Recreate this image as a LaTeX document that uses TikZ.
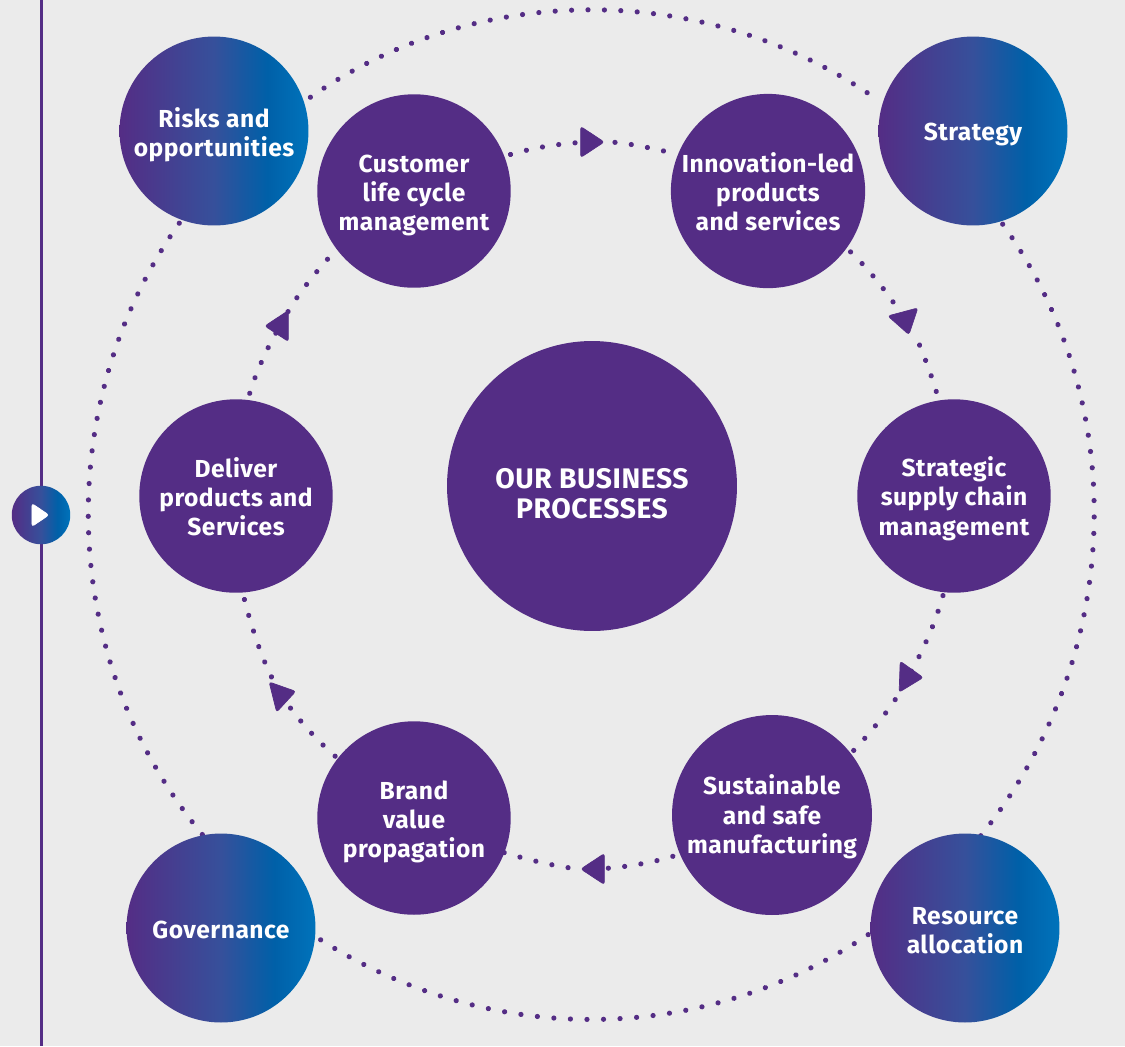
\documentclass[tikz,border=0pt]{standalone}
\usepackage{fontspec}
\setmainfont{Fira Sans}[LetterSpace=2]
\usetikzlibrary{shapes.geometric,backgrounds}
\definecolor{pagegrey}{HTML}{EBEBEB}
\definecolor{procpurple}{HTML}{542D85}
\definecolor{orbmid}{HTML}{36509B}
\definecolor{orbdeep}{HTML}{0060A8}
\definecolor{orbblue}{HTML}{0073BB}
\pgfdeclarehorizontalshading{orbfade}{100bp}{color(0bp)=(procpurple); color(25bp)=(procpurple); color(50bp)=(orbmid); color(64bp)=(orbdeep); color(75bp)=(orbblue); color(100bp)=(orbblue)}

\begin{document}
\begin{tikzpicture}[x=0.02cm, y=0.02cm]
        \tikzstyle{every node}+=[inner sep=0pt, outer sep=0pt]
        \tikzstyle{procnode}=[circle, fill=procpurple, minimum size=3.87cm, text=white, align=center, text height=48.5pt, text depth=3pt, font=\fontsize{14}{16.7}\selectfont\bfseries]
        \tikzstyle{orbnode}=[circle, shading=orbfade, minimum size=3.78cm, text=white, align=center, text height=32pt, text depth=3pt, font=\fontsize{14}{16.7}\selectfont\bfseries]
        \tikzstyle{hubnode}=[circle, fill=procpurple, minimum size=5.8cm, text=white, align=center, text height=40pt, text depth=3pt, font=\fontsize{16.1}{17}\selectfont\bfseries]
        \tikzstyle{flowtip}=[isosceles triangle, isosceles triangle stretches, fill=procpurple, draw=procpurple, rounded corners=1.5pt, minimum width=0.62cm, minimum height=0.47cm]
        \tikzstyle{ringdots}=[procpurple, line width=0.104cm, line cap=round, dash pattern=on 0.01pt off 0.328cm]
        \tikzstyle{innerdots}=[ringdots, bend left=7.3, looseness=0.855]
        \tikzstyle{outerdots}=[ringdots, looseness=0.94]
        \useasboundingbox (0,0) rectangle (1125,-1046);

        \draw (592,-486) node [hubnode] (hub) {OUR BUSINESS\\PROCESSES};

        \draw (414,-191) node [procnode] (customer) {Customer\\life cycle\\management};
        \draw (768,-191) node [procnode] (innovation) {Innovation-led\\products\\and services};
        \draw (954,-496) node [procnode, text height=47.5pt] (supply) {Strategic\\supply chain\\management};
        \draw (772,-815) node [procnode, minimum size=4cm, text height=47pt] (manufacturing) {Sustainable\\and safe\\manufacturing};
        \draw (414,-818) node [procnode] (brand) {Brand\\value\\propagation};
        \draw (236,-496) node [procnode] (deliver) {Deliver\\products and\\Services};

        \draw (214,-131) node [orbnode] (risks) {Risks and\\opportunities};
        \draw (973,-131) node [orbnode, text height=13.5pt] (strategy) {Strategy};
        \draw (965,-928) node [orbnode] (resource) {Resource\\allocation};
        \draw (221,-928) node [orbnode, text height=14.5pt] (governance) {Governance};

        \draw (589,-142) node [flowtip] (tipa) {};
        \draw (905,-320) node [flowtip, rotate=-75] (tipb) {};
        \draw (908,-677) node [flowtip, rotate=-2] (tipc) {};
        \draw (596,-869) node [flowtip, rotate=180] (tipd) {};
        \draw (281,-695) node [flowtip, rotate=14] (tipe) {};
        \draw (280,-326) node [flowtip, rotate=180] (tipf) {};

        \draw (41,-515) node [circle, shading=orbfade, minimum size=1.17cm] (playbtn) {};
        \draw (38,-515) node [isosceles triangle, isosceles triangle stretches, fill=white, draw=white, rounded corners=1.5pt, minimum width=0.46cm, minimum height=0.34cm] (playmark) {};
        \coordinate (railtop) at (41,0);
        \coordinate (railend) at (41,-1046);

        \begin{scope}[on background layer]
        \fill [pagegrey] (0,0) rectangle (1125,-1046);
        \draw [procpurple, line width=0.06cm] (railtop) -- (playbtn);
        \draw [procpurple, line width=0.06cm] (playbtn) -- (railend);

        \draw [outerdots, shorten <=0.16cm, shorten >=0.1cm] (risks.18.5) to [bend left=35.1] (strategy.163.3);
        \draw [outerdots, shorten <=0.07cm, shorten >=-0.12cm] (strategy.-73.3) to [bend left=37.5] (resource.80.3);
        \draw [outerdots, shorten <=0.06cm, dash pattern=on 0.01pt off 0.331cm] (resource.183.8) to [bend left=33.5] (governance.-5.3);
        \draw [outerdots, shorten <=0.02cm] (governance.101.8) to [bend left=37.65] (risks.250.6);

        \draw [innerdots, shorten <=0.13cm] (customer.21.85) to (tipa.center);
        \draw [innerdots, shorten <=0.52cm] (tipa.center) to (innovation.158.43);
        \draw [innerdots, shorten <=0.11cm] (innovation.-36.97) to (tipb.center);
        \draw [innerdots, shorten <=0.58cm] (tipb.center) to (supply.99.1);
        \draw [innerdots, shorten <=0.07cm] (supply.-96.3) to (tipc.center);
        \draw [innerdots, shorten <=0.52cm] (tipc.center) to (manufacturing.38.1);
        \draw [innerdots, shorten <=0.15cm] (manufacturing.-157.9) to (tipd.center);
        \draw [innerdots, shorten <=0.56cm, shorten >=-0.08cm] (tipd.center) to (brand.-21.9);
        \draw [innerdots, shorten <=0.07cm] (brand.142.7) to (tipe.center);
        \draw [innerdots, shorten <=0.41cm] (tipe.center) to (deliver.-86);
        \draw [innerdots, shorten <=0.14cm] (deliver.83.7) to (tipf.center);
        \draw [innerdots, shorten <=0.33cm] (tipf.center) to (customer.217.25);
        \end{scope}
\end{tikzpicture}
\end{document}
